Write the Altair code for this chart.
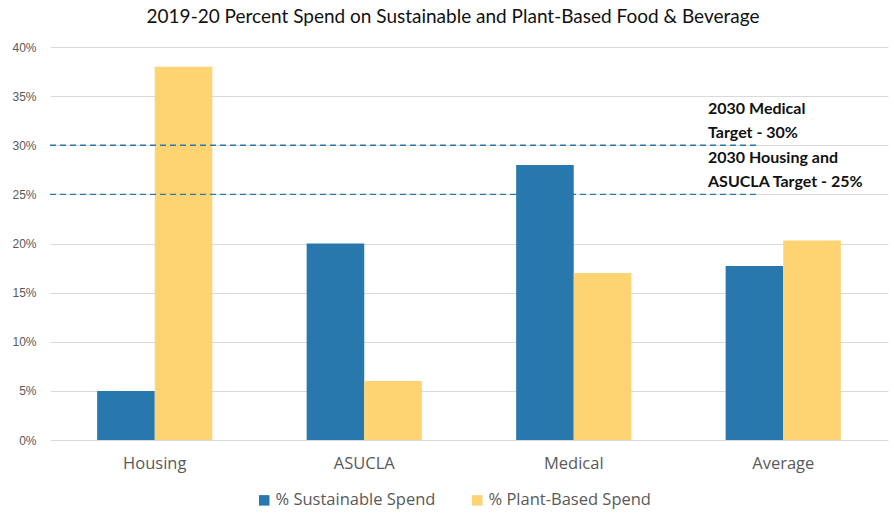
import altair as alt
import pandas as pd

categories = ["Housing", "ASUCLA", "Medical", "Average"]
series = ["% Sustainable Spend", "% Plant-Based Spend"]
sustainable = [5, 20, 28, 17.7]
plant_based = [38, 6, 17, 20.3]
colors = ["#2878AE", "#FDD471"]

target_values = [30, 25]
target_labels = [["2030 Medical", "Target - 30%"], ["2030 Housing and", "ASUCLA Target - 25%"]]

rows = []
for c, s, p in zip(categories, sustainable, plant_based):
    rows.append({"category": c, "series": series[0], "value": s})
    rows.append({"category": c, "series": series[1], "value": p})
df = pd.DataFrame(rows)
tdf = pd.DataFrame({"target": target_values, "label": target_labels})

W, H = 838, 393

bars = alt.Chart(df).mark_bar().encode(
    x=alt.X("category:N", sort=categories,
            scale=alt.Scale(paddingInner=0.45, paddingOuter=0.225),
            axis=alt.Axis(title=None, labelAngle=0, ticks=False, domain=False,
                          labelFont="Open Sans", labelFontSize=16.5, labelColor="#595959",
                          labelPadding=15)),
    xOffset=alt.XOffset("series:N", sort=series, scale=alt.Scale(paddingInner=0, paddingOuter=0)),
    y=alt.Y("value:Q", scale=alt.Scale(domain=[0, 40], nice=False),
            axis=alt.Axis(title=None, values=[0, 5, 10, 15, 20, 25, 30, 35, 40],
                          labelExpr="datum.value + '%'", ticks=False, domain=False,
                          gridColor="#d9d9d9", labelFont="Liberation Sans",
                          labelFontSize=12, labelColor="#595959", labelPadding=14)),
    color=alt.Color("series:N", sort=series,
                    scale=alt.Scale(domain=series, range=colors),
                    legend=alt.Legend(title=None, orient="none", direction="horizontal",
                                      legendX=206, legendY=445, symbolType="square",
                                      symbolSize=110, symbolStrokeWidth=0,
                                      labelFont="Open Sans", labelFontSize=16.5,
                                      labelColor="#595959", columnPadding=33,
                                      labelOffset=3, labelLimit=400)),
)

rules = alt.Chart(tdf).mark_rule(color="#2a78ab", strokeDash=[6, 4], strokeWidth=1.3).encode(
    y=alt.Y("target:Q"),
    x=alt.value(0),
    x2=alt.value(706),
)

texts = alt.Chart(tdf).mark_text(align="left", baseline="bottom", font="Lato",
                                 fontSize=16, fontWeight="bold", color="#111111",
                                 lineHeight=24, dy=-28).encode(
    y=alt.Y("target:Q"),
    x=alt.value(658),
    text="label",
)

chart = alt.layer(bars, rules, texts).properties(
    width=W, height=H,
    title=alt.TitleParams("2019-20 Percent Spend on Sustainable and Plant-Based Food & Beverage",
                          font="Lato", fontSize=19, fontWeight="normal", color="#111111",
                          anchor="middle", offset=14, dx=-16),
    autosize=alt.AutoSizeParams(type="none"),
    padding={"left": 50, "top": 47, "right": 6, "bottom": 74},
).configure_view(stroke=None)

chart.save("out.html", embed_options={"renderer": "svg", "actions": False})
